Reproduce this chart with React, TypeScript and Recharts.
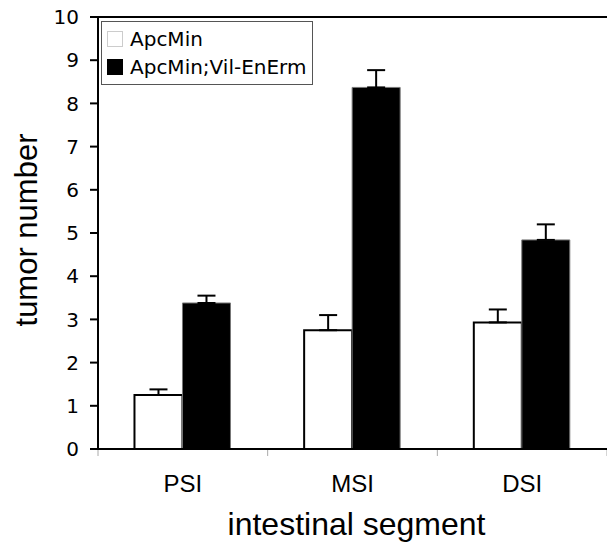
import React from 'react';
import { BarChart, Bar, XAxis, YAxis, ErrorBar, ReferenceLine, Legend } from 'recharts';

const categories = ['PSI', 'MSI', 'DSI'];
const apcMin = [1.25, 2.75, 2.93];
const apcMinErr = [0.13, 0.35, 0.3];
const apcMinVil = [3.38, 8.37, 4.84];
const apcMinVilErr = [0.17, 0.4, 0.36];
const seriesNames = ['ApcMin', 'ApcMin;Vil-EnErm'];
const seriesFills = ['#ffffff', '#000000'];
const yTicks = [0, 1, 2, 3, 4, 5, 6, 7, 8, 9, 10];

const data = categories.map((c, i) => ({
  cat: c,
  a: apcMin[i],
  aErr: [0, apcMinErr[i]],
  b: apcMinVil[i],
  bErr: [0, apcMinVilErr[i]],
}));

const renderLegend = () => (
  <div
    style={{
      display: 'inline-block',
      border: '1.5px solid #555',
      background: '#fff',
      padding: '3px 6px 3px 5px',
      fontFamily: '"DejaVu Sans", Verdana, sans-serif',
      fontSize: 20,
      lineHeight: '28px',
      color: '#000',
      whiteSpace: 'nowrap',
    }}
  >
    {seriesNames.map((n, i) => (
      <div key={n} style={{ display: 'flex', alignItems: 'center' }}>
        <span
          style={{
            display: 'inline-block',
            width: 16,
            height: 16,
            background: seriesFills[i],
            border: i === 0 ? '1px solid #ccc' : '1px solid #000',
            boxSizing: 'border-box',
            marginRight: 7,
          }}
        />
        <span>{n}</span>
      </div>
    ))}
  </div>
);

const CatTick = (props: any) => {
  const { x, y, payload, index, visibleTicksCount } = props;
  const half = payload && typeof payload.offset === 'number' ? payload.offset : 0;
  return (
    <g>
      <line x1={x - half} x2={x - half} y1={y + 1} y2={y + 7} stroke="#aaa" strokeWidth={1} />
      {index === visibleTicksCount - 1 && (
        <line x1={x + half} x2={x + half} y1={y + 1} y2={y + 7} stroke="#aaa" strokeWidth={1} />
      )}
      <text
        x={x}
        y={y + 26}
        dy="0.71em"
        textAnchor="middle"
        fontFamily='"Liberation Sans", Arial, sans-serif'
        fontSize={24}
        fill="#000"
      >
        {payload.value}
      </text>
    </g>
  );
};

const YLabel = (props: any) => {
  const vb = props.viewBox;
  const x = vb.x + 26;
  const y = vb.y + vb.height / 2 - 3;
  return (
    <text
      x={x}
      y={y}
      transform={`rotate(-90, ${x}, ${y})`}
      textAnchor="middle"
      dominantBaseline="central"
      fontFamily='"Liberation Sans", Arial, sans-serif'
      fontSize={31}
      fill="#000"
    >
      tumor number
    </text>
  );
};

const XLabel = (props: any) => {
  const vb = props.viewBox;
  return (
    <text
      x={vb.x + vb.width / 2 + 4}
      y={vb.y + 86}
      textAnchor="middle"
      fontFamily='"Liberation Sans", Arial, sans-serif'
      fontSize={32}
      fill="#000"
    >
      intestinal segment
    </text>
  );
};

export default function App() {
  return (
    <div style={{ position: 'absolute', left: 0, top: 0 }}>
      <BarChart
        width={607}
        height={548}
        data={data}
        margin={{ top: 17, right: 0, left: 0, bottom: 0 }}
        barCategoryGap="21.5%"
        barGap={0}
      >
        <XAxis
          dataKey="cat"
          height={99}
          axisLine={{ stroke: '#000', strokeWidth: 2 }}
          tickLine={false}
          tickSize={0}
          tickMargin={0}
          tick={<CatTick />}
          interval={0}
          label={<XLabel />}
        />
        <YAxis
          width={98}
          domain={[0, 10]}
          ticks={yTicks}
          interval={0}
          axisLine={{ stroke: '#000', strokeWidth: 2 }}
          tickLine={{ stroke: '#000', strokeWidth: 2 }}
          tickSize={8}
          tickMargin={11}
          tick={{ fontFamily: '"DejaVu Sans", Verdana, sans-serif', fontSize: 20, fill: '#000' }}
          label={<YLabel />}
        />
        <ReferenceLine y={10} stroke="#000" strokeWidth={2} />
        <Legend
          layout="horizontal"
          verticalAlign="middle"
          align="center"
          content={renderLegend}
          wrapperStyle={{ left: 101, top: 21, width: 'auto' }}
        />
        <Bar
          dataKey="a"
          name={seriesNames[0]}
          fill={seriesFills[0]}
          stroke="#000"
          strokeWidth={2}
          isAnimationActive={false}
        >
          <ErrorBar dataKey="aErr" direction="y" width={9} stroke="#000" strokeWidth={2} />
        </Bar>
        <Bar
          dataKey="b"
          name={seriesNames[1]}
          fill={seriesFills[1]}
          stroke="#777"
          strokeWidth={1}
          isAnimationActive={false}
        >
          <ErrorBar dataKey="bErr" direction="y" width={9} stroke="#000" strokeWidth={2} />
        </Bar>
      </BarChart>
    </div>
  );
}
